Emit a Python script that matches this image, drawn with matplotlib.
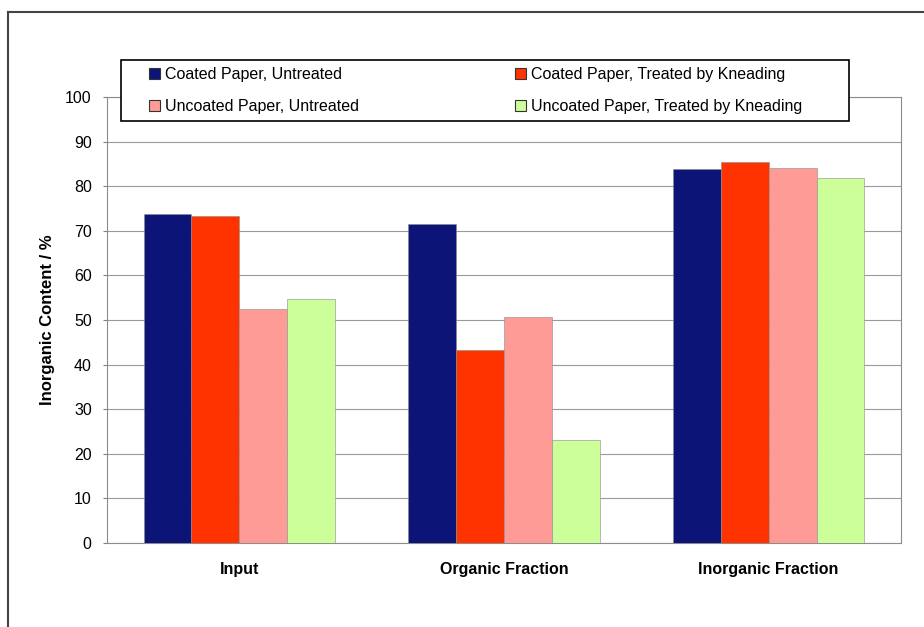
import numpy as np
import matplotlib
import matplotlib.pyplot as plt
from matplotlib.patches import Rectangle
from matplotlib.lines import Line2D

matplotlib.rcParams['font.family']='sans-serif'
matplotlib.rcParams['font.sans-serif']=['Liberation Sans','DejaVu Sans']
plt.rcParams.update({'font.size': 11.5})

categories=['Input','Organic Fraction','Inorganic Fraction']
names=['Coated Paper, Untreated','Coated Paper, Treated by Kneading',
	'Uncoated Paper, Untreated','Uncoated Paper, Treated by Kneading']
coatedUntreated=[73.7,71.5,83.8]
coatedKneaded=[73.4,43.3,85.5]
uncoatedUntreated=[52.4,50.7,84.0]
uncoatedKneaded=[54.7,23.0,81.9]
yticks=[0,10,20,30,40,50,60,70,80,90,100]

color=['#0c1478','#ff3300','#ff9b96','#ccff99']
W,H=924,627

fig=plt.figure(figsize=(W/100,H/100),dpi=100)
ax=fig.add_axes([107/W,1-543/H,794/W,446/H])

series=[coatedUntreated,coatedKneaded,uncoatedUntreated,uncoatedKneaded]
x=np.arange(len(categories))
w=0.181
bars=[]
for i,s in enumerate(series):
	b=ax.bar(x+(i-1.5)*w,s,width=w,color=color[i],edgecolor='#8a8a8a',linewidth=0.4,zorder=3,label=names[i])
	bars.append(b)

ax.set_xlim(-0.5,2.5)
ax.set_ylim(0,100)
ax.set_yticks(yticks)
ax.set_xticks(x)
ax.set_xticklabels(categories,fontweight='bold')
ax.tick_params(axis='x',length=0,pad=14)
ax.tick_params(axis='y',length=3,width=0.8,color='#808080',pad=8,direction='out')
ax.grid(axis='y',color='#9a9a9a',linewidth=0.8,zorder=0)
for sp in ax.spines.values():
	sp.set_color('#8c8c8c')
	sp.set_linewidth(0.8)
ax.set_ylabel('Inorganic Content / %',fontweight='bold',fontsize=12)
ax.yaxis.set_label_coords(-0.065,0.5)

# legend box drawn by hand, entries without frame
fig.patches.append(Rectangle((121/W,1-121/H),(849-121)/W,61/H,transform=fig.transFigure,
	fill=True,facecolor='white',edgecolor='black',linewidth=1.2,zorder=5))
leg=fig.legend(handles=[bars[0],bars[2],bars[1],bars[3]],
	labels=[names[0],names[2],names[1],names[3]],
	loc='upper left',bbox_to_anchor=(149/W,1-67/H),ncol=2,frameon=False,
	handlelength=0.7,handleheight=0.7,handletextpad=0.3,labelspacing=1.05,
	columnspacing=9.75,borderaxespad=0,borderpad=0)
for h in leg.legend_handles:
	h.set_edgecolor('#333333')
	h.set_linewidth(0.8)
leg.set_zorder(6)

# outer frame of the chart
fig.add_artist(Line2D([8/W,1.0],[1-12/H,1-12/H],color='#444444',linewidth=1.5,transform=fig.transFigure))
fig.add_artist(Line2D([8/W,8/W],[0,1-12/H],color='#444444',linewidth=1.5,transform=fig.transFigure))

plt.savefig('out.png',dpi=100)
plt.close(fig)
